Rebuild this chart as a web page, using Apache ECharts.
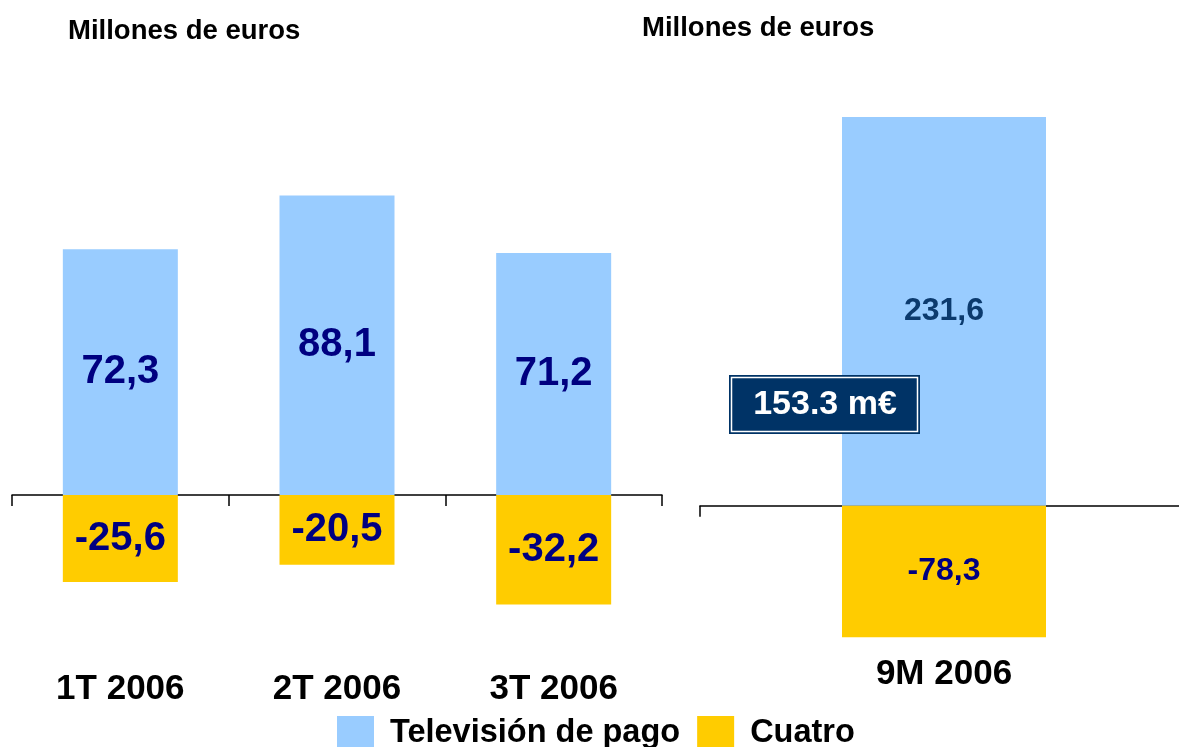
<!DOCTYPE html>
<html>
<head>
<meta charset="utf-8">
<script src="https://cdn.jsdelivr.net/npm/echarts@6/dist/echarts.min.js"></script>
<style>
  html, body { margin: 0; padding: 0; background: #fff; }
  #chart { width: 1179px; height: 747px; }
</style>
</head>
<body>
<div id="chart"></div>
<script>
// datos trimestrales
const categories = ['1T 2006', '2T 2006', '3T 2006']
const pago = [72.3, 88.1, 71.2]
const cuatro = [-25.6, -20.5, -32.2]

// acumulado nueve meses
const totalCategory = ['9M 2006']
const totalPago = [231.6]
const totalCuatro = [-78.3]
const margenTotal = '153.3 m€'

const FONT = "'Liberation Sans', Arial, sans-serif"
const BLUE = '#99CCFF'
const YELLOW = '#FFCC00'

const fmt = p => String(p.value).replace('.', ',')

const chart = echarts.init(document.getElementById('chart'))

const option = {
  backgroundColor: '#fff',
  animation: false,
  title: [
    { text: 'Millones de euros', left: 63, top: 12, textStyle: { fontFamily: FONT, fontSize: 27.5, fontWeight: 'bold', color: '#000' } },
    { text: 'Millones de euros', left: 637, top: 9, textStyle: { fontFamily: FONT, fontSize: 27.5, fontWeight: 'bold', color: '#000' } }
  ],
  legend: {
    left: 332,
    top: 711,
    itemWidth: 37,
    itemHeight: 34,
    itemGap: 17,
    icon: 'rect',
    data: ['Televisión de pago', 'Cuatro'],
    textStyle: { fontFamily: FONT, fontSize: 32.5, fontWeight: 'bold', color: '#000', padding: [0, 0, 0, 11] }
  },
  grid: [
    { left: 12, width: 650, top: 155, bottom: 116, outerBoundsMode: 'none', containLabel: false },
    { left: 700, width: 488, top: 86, bottom: 90, outerBoundsMode: 'none', containLabel: false }
  ],
  xAxis: [
    {
      type: 'category',
      gridIndex: 0,
      data: categories,
      axisLine: { onZero: true, lineStyle: { color: '#000', width: 1.5 } },
      axisTick: { show: true, length: 11, lineStyle: { color: '#000', width: 1.5 } },
      axisLabel: { margin: 41, fontFamily: FONT, fontSize: 35, fontWeight: 'bold', color: '#000' }
    },
    {
      type: 'category',
      gridIndex: 1,
      data: totalCategory,
      axisLine: { onZero: true, lineStyle: { color: '#000', width: 1.5 } },
      axisTick: { show: true, length: 11, lineStyle: { color: '#000', width: 1.5 } },
      axisLabel: { margin: 0, fontFamily: FONT, fontSize: 35, fontWeight: 'bold', color: '#000' }
    }
  ],
  yAxis: [
    { type: 'value', gridIndex: 0, min: -40, max: 100, show: false },
    { type: 'value', gridIndex: 1, min: -90, max: 250, show: false }
  ],
  series: [
    {
      name: 'Televisión de pago',
      type: 'bar',
      xAxisIndex: 0, yAxisIndex: 0,
      stack: 'q',
      barWidth: 115,
      itemStyle: { color: BLUE },
      label: { show: true, position: 'inside', formatter: fmt, fontFamily: FONT, fontSize: 40, fontWeight: 'bold', color: '#000080' },
      data: pago
    },
    {
      name: 'Cuatro',
      type: 'bar',
      xAxisIndex: 0, yAxisIndex: 0,
      stack: 'q',
      barWidth: 115,
      itemStyle: { color: YELLOW },
      label: { show: true, position: 'inside', formatter: fmt, fontFamily: FONT, fontSize: 40, fontWeight: 'bold', color: '#000080' },
      data: cuatro
    },
    {
      name: 'Televisión de pago',
      type: 'bar',
      xAxisIndex: 1, yAxisIndex: 1,
      stack: 't',
      barWidth: 204,
      itemStyle: { color: BLUE },
      label: { show: true, position: 'inside', formatter: fmt, fontFamily: FONT, fontSize: 32, fontWeight: 'bold', color: '#0B3A6E' },
      data: totalPago
    },
    {
      name: 'Cuatro',
      type: 'bar',
      xAxisIndex: 1, yAxisIndex: 1,
      stack: 't',
      barWidth: 204,
      itemStyle: { color: YELLOW },
      label: { show: true, position: 'inside', formatter: fmt, fontFamily: FONT, fontSize: 32, fontWeight: 'bold', color: '#000080' },
      data: totalCuatro
    }
  ],
  graphic: [
    {
      type: 'group',
      left: 729,
      top: 375,
      z: 100,
      zlevel: 1,
      children: [
        { type: 'rect', z: 100, shape: { x: 0, y: 0, width: 191, height: 59 }, style: { fill: '#003366' } },
        { type: 'rect', z: 101, shape: { x: 2.5, y: 2.5, width: 186, height: 54 }, style: { fill: 'none', stroke: '#fff', lineWidth: 1.5 } },
        {
          type: 'text',
          z: 102,
          x: 96, y: 30,
          style: { text: margenTotal, fill: '#fff', fontFamily: FONT, fontSize: 34, fontWeight: 'bold', align: 'center', verticalAlign: 'middle' }
        }
      ]
    }
  ]
}

chart.setOption(option)

window.addEventListener('resize', () => {
  chart.resize()
})
</script>
</body>
</html>
